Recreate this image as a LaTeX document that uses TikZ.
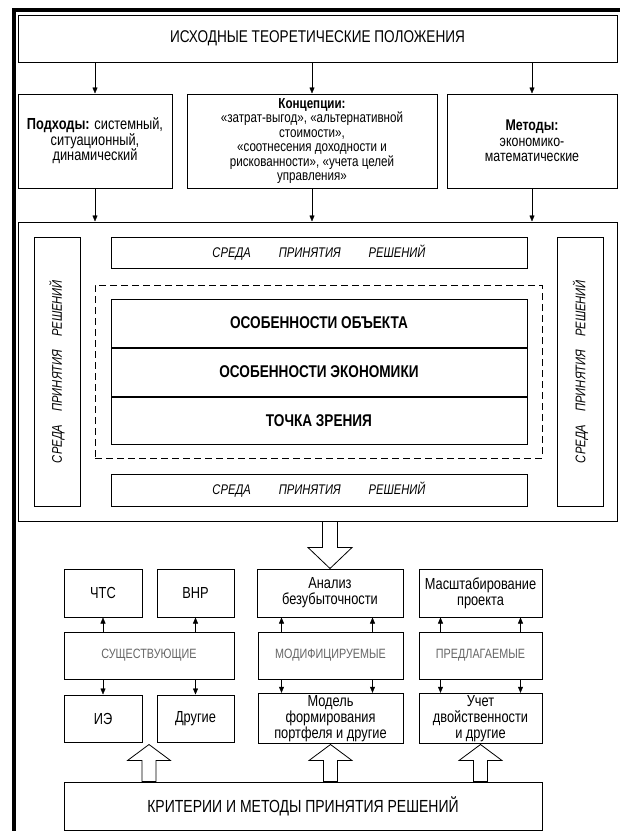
\documentclass[tikz,border=0pt]{standalone}
\usepackage{fontspec}
\setmainfont{Liberation Sans}[FakeStretch=0.8]
\usetikzlibrary{arrows.meta,positioning,calc}

\begin{document}
\begin{tikzpicture}[x=1pt,y=-1pt,
    box/.style={draw,line width=1pt,inner sep=2pt,align=center,font=\fontsize{14.5}{14.5}\selectfont},
    envbox/.style={box,font=\fontsize{14}{14}\selectfont\itshape},
    featbox/.style={box,minimum width=416pt,font=\fontsize{17}{20}\selectfont\bfseries},
    smallbox/.style={box,minimum height=48pt,font=\fontsize{16}{16}\selectfont},
    kindbox/.style={box,minimum height=47pt,text=black!60,font=\fontsize{13.5}{14}\selectfont},
    blockarr/.style={draw,line width=0.8pt,fill=white,line join=miter},
    >={Triangle[length=6pt,width=5pt]},
  ]
  \useasboundingbox (0,0) rectangle (620,831);
  % outer frame (left and top only)
  \draw[line width=4pt,line join=miter] (14,835) -- (14,10) -- (624,10);

  % theory block
  \node[box,minimum width=599pt,minimum height=47pt,font=\fontsize{17}{20}\selectfont] (top) at (317.5,38.5)
    {ИСХОДНЫЕ ТЕОРЕТИЧЕСКИЕ ПОЛОЖЕНИЯ};
  \node[box,minimum width=154pt,minimum height=94pt,font=\fontsize{16}{15.5}\selectfont] (podh) at (95,141)
    {\textbf{Подходы:} системный,\\ситуационный,\\динамический};
  \node[box,minimum width=250pt,minimum height=94pt,inner sep=0pt] (konc) at (312,141)
    {\textbf{Концепции:}\\«затрат-выгод», «альтернативной\\стоимости»,\\«соотнесения доходности и\\рискованности», «учета целей\\управления»};
  \node[box,minimum width=170pt,minimum height=94pt,font=\fontsize{15.5}{15.5}\selectfont] (meth) at (532,141)
    {\textbf{Методы:}\\экономико-\\математические};
  \foreach \n in {podh,konc,meth}
    \draw[->] (top.south -| \n) -- (\n.north);

  % decision environment
  \node[box,minimum width=599pt,minimum height=299pt] (big) at (317.5,371.5) {};
  \foreach \n in {podh,konc,meth}
    \draw[->] (\n.south) -- (big.north -| \n);
  \node[envbox,minimum width=416pt,minimum height=31pt] (envt) at (319,252.5)
    {СРЕДА\hspace{28pt}ПРИНЯТИЯ\hspace{28pt}РЕШЕНИЙ};
  \node[envbox,minimum width=416pt,minimum height=32pt] (envb) at (319,490)
    {СРЕДА\hspace{28pt}ПРИНЯТИЯ\hspace{28pt}РЕШЕНИЙ};
  \node[envbox,rotate=90,minimum width=269pt,minimum height=46pt] (envl) at (57,371.5)
    {СРЕДА\hspace{13pt}ПРИНЯТИЯ\hspace{13pt}РЕШЕНИЙ};
  \node[envbox,rotate=90,minimum width=269pt,minimum height=46pt] (envr) at (580.5,371.5)
    {СРЕДА\hspace{13pt}ПРИНЯТИЯ\hspace{13pt}РЕШЕНИЙ};
  \node[draw,dashed,dash pattern=on 7pt off 4pt,line width=0.9pt,minimum width=447pt,minimum height=173pt] (core) at (318.5,371.5) {};
  \node[featbox,minimum height=48pt] (obj) at (319,323) {ОСОБЕННОСТИ ОБЪЕКТА};
  \node[featbox,minimum height=48pt,below=0pt of obj] (econ) {ОСОБЕННОСТИ ЭКОНОМИКИ};
  \node[featbox,minimum height=47pt,below=0pt of econ] (view) {ТОЧКА ЗРЕНИЯ};

  % methods
  \node[smallbox,minimum width=78pt] (chts) at (103,593) {ЧТС};
  \node[smallbox,minimum width=77pt] (vnr) at (195.5,593) {ВНР};
  \node[smallbox,minimum width=146pt] (anal) at (330,593) {Анализ\\безубыточности};
  \node[smallbox,minimum width=123pt] (scal) at (480.5,593) {Масштабирование\\проекта};
  \node[kindbox,minimum width=170pt] (exist) at (149,655.5) {СУЩЕСТВУЮЩИЕ};
  \node[kindbox,minimum width=145pt] (modif) at (330.5,655.5) {МОДИФИЦИРУЕМЫЕ};
  \node[kindbox,minimum width=123pt] (prop) at (480.5,655.5) {ПРЕДЛАГАЕМЫЕ};
  \node[smallbox,minimum width=78pt,minimum height=47pt] (ie) at (103,718.5) {ИЭ};
  \node[smallbox,minimum width=77pt,minimum height=47pt] (other) at (195.5,718.5) {Другие};
  \node[smallbox,minimum width=145pt,minimum height=47pt] (model) at (330.5,718.5)
    {Модель\\формирования\\портфеля и другие};
  \node[smallbox,minimum width=123pt,minimum height=47pt] (dual) at (480.5,718.5)
    {Учет\\двойственности\\и другие};
  \node[box,minimum width=478pt,minimum height=48pt,font=\fontsize{17.5}{20}\selectfont] (crit) at (303,806)
    {КРИТЕРИИ И МЕТОДЫ ПРИНЯТИЯ РЕШЕНИЙ};

  % small arrows
  \draw[->] (chts |- exist.north) -- (chts.south);
  \draw[->] (vnr |- exist.north) -- (vnr.south);
  \draw[->] (ie |- exist.south) -- (ie.north);
  \draw[->] (other |- exist.south) -- (other.north);
  \foreach \dx in {-49,42} {
    \draw[->] ([xshift=\dx pt]modif.north) -- ([xshift=\dx pt]modif.north |- anal.south);
    \draw[->] ([xshift=\dx pt]modif.south) -- ([xshift=\dx pt]modif.south |- model.north);
  }
  \foreach \dx in {-40,40} {
    \draw[->] ([xshift=\dx pt]prop.north) -- ([xshift=\dx pt]prop.north |- scal.south);
    \draw[->] ([xshift=\dx pt]prop.south) -- ([xshift=\dx pt]prop.south |- dual.north);
  }

  % block arrows
  \draw[blockarr] (anal.north |- big.south) ++(-7.5,0) -- ++(0,26) -- ++(-14.5,0)
    -- ++(22,21) -- ++(22,-21) -- ++(-14.5,0) -- ++(0,-26) -- cycle;
  \foreach \n in {exist,model,dual}
    \draw[blockarr] (\n |- crit.north) ++(-7,0) -- ++(0,-21) -- ++(-14.5,0)
      -- ++(21.5,-16) -- ++(21.5,16) -- ++(-14.5,0) -- ++(0,21) -- cycle;
\end{tikzpicture}
\end{document}
